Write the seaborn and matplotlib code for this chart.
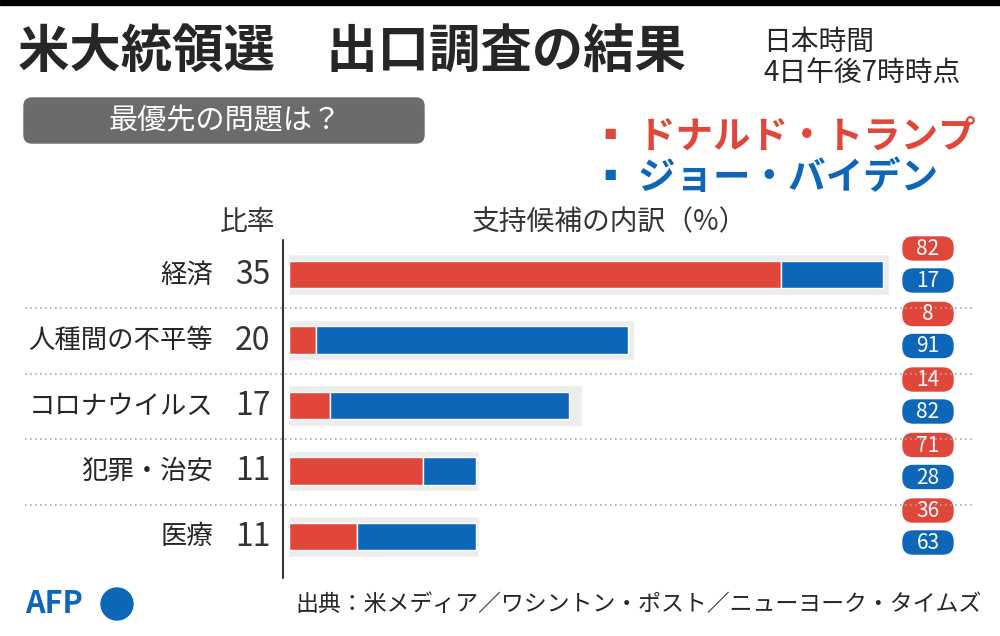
import numpy as np
import matplotlib.pyplot as plt
import seaborn as sns
from matplotlib.patches import FancyBboxPatch, Rectangle, Circle

# --- data ---
issues = ["経済", "人種間の不平等", "コロナウイルス", "犯罪・治安", "医療"]
share = [35, 20, 17, 11, 11]
trump = [82, 8, 14, 71, 36]
biden = [17, 91, 82, 28, 63]

RED = "#e0473a"
BLUE = "#0d66b8"

sns.set_theme(style="white")
plt.rcParams['font.family'] = ['Noto Sans CJK JP', 'DejaVu Sans']

fig = plt.figure(figsize=(10, 6.36), dpi=100)

def P(x, y):
    return x / 1000, 1 - y / 636

# bar axes: x 289..889 px for 35, rows 242..569 px
ax = fig.add_axes([0.289, 1 - 569 / 636, 0.600, (569 - 242) / 636])
ax.set_xlim(0, 35)
ax.set_ylim(len(issues) - 0.5, -0.5)
ax.axis("off")
y = np.arange(len(issues))
s = np.array(share, float)
t = s * np.array(trump) / 100
b = s * np.array(biden) / 100
ax.barh(y, s + 0.35, left=-0.25, height=0.62, color="#ececec", zorder=1)
ax.barh(y, t, height=0.42, color=RED, zorder=2)
ax.barh(y, b, left=t, height=0.42, color=BLUE, zorder=2)

# overlay axes for decorations
ov = fig.add_axes([0, 0, 1, 1], zorder=-1)
ov.set_xlim(0, 1000); ov.set_ylim(636, 0); ov.axis("off")
ov.add_patch(Rectangle((0, 0), 1000, 5, color="black"))
ov.add_patch(FancyBboxPatch((24, 98), 400, 45, boxstyle="round,pad=0,rounding_size=8", color="#6b6b6b"))
ov.plot([283, 283], [240, 578], color="#333333", lw=1.5)

fig.text(*P(18, 52), "米大統領選　出口調査の結果", fontsize=37, fontweight="bold", va="center")
fig.text(*P(763, 58), "日本時間\n4日午後7時時点", fontsize=20, va="center", linespacing=1.05)
fig.text(*P(225, 121), "最優先の問題は？", fontsize=21, color="white", va="center", ha="center")
fig.text(*P(592, 136), "▪ ドナルド・トランプ", fontsize=27, color=RED, fontweight="bold", va="center")
fig.text(*P(592, 177), "▪ ジョー・バイデン", fontsize=27, color=BLUE, fontweight="bold", va="center")
fig.text(*P(248, 222), "比率", fontsize=20, color="#333333", va="center", ha="center")
fig.text(*P(610, 222), "支持候補の内訳（%）", fontsize=20, color="#333333", va="center", ha="center")

row_y = 275 + np.arange(len(issues)) * 65.5
for i, (name, sh, tr, bi) in enumerate(zip(issues, share, trump, biden)):
    yy = row_y[i]
    fig.text(*P(213, yy), name, fontsize=19, ha="right", va="center")
    fig.text(*P(253, yy), str(sh), fontsize=23, ha="center", va="center", color="#333333")
    for val, col, dy in [(tr, RED, -38), (bi, BLUE, -6)]:
        ov.add_patch(FancyBboxPatch((903, yy + dy), 50, 23, boxstyle="round,pad=0,rounding_size=10", color=col))
        ov.text(928, yy + dy + 12, str(val), fontsize=15, color="white", ha="center", va="center")
    if i < len(issues) - 1:
        ov.plot([25, 975], [yy + 33, yy + 33], color="#aaaaaa", lw=1.2, ls=(0, (1, 2)))

fig.text(*P(25, 604), "AFP", fontsize=22, fontweight="bold", color="#0d66b8", va="center", style="italic")
ov.add_patch(Circle((117, 604), 16, color=BLUE))
fig.text(*P(982, 604), "出典：米メディア／ワシントン・ポスト／ニューヨーク・タイムズ", fontsize=16.5, ha="right", va="center")

fig.savefig("out.png", dpi=100, facecolor="white")
